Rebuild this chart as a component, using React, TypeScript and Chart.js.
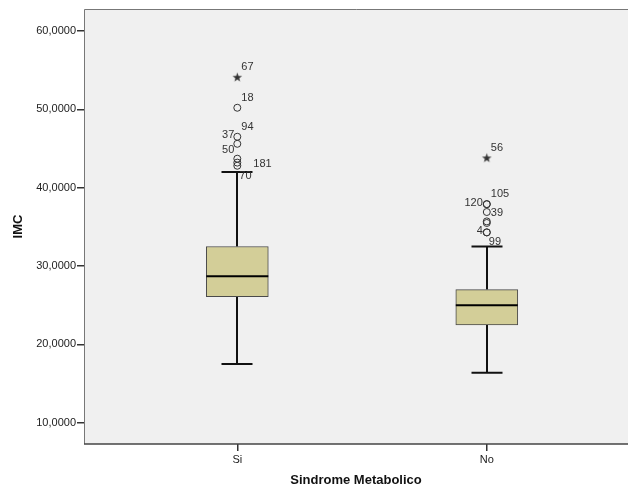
import React, { useEffect, useRef } from 'react';
import { Chart, registerables } from 'chart.js';

Chart.register(...registerables);

// ---- data ----
const categories = ['Si', 'No'];
const categoryPos = [1, 2];
const whiskerLow = [17.5, 16.4];
const q1 = [26.1, 22.5];
const median = [28.7, 25.0];
const q3 = [32.5, 27.0];
const whiskerHigh = [42.0, 32.5];

const outlierGroup = [0, 0, 0, 0, 0, 0, 0, 1, 1, 1, 1, 1, 1, 1, 1];
const outlierValues = [54.1, 50.2, 46.5, 45.6, 43.7, 43.2, 42.8, 43.8, 37.9, 37.9, 36.9, 35.7, 35.5, 34.3, 34.3];
const outlierKinds = ['star', 'circle', 'circle', 'circle', 'circle', 'circle', 'circle', 'star', 'circle', 'circle', 'circle', 'circle', 'circle', 'circle', 'circle'];
const outlierLabels = ['67', '18', '94', '37', '50', '181', '70', '56', '105', '120', '39', '', '', '4', '99'];
const labelSides = ['ur', 'ur', 'ur', 'ul', 'ul', 'rr', 'dr', 'ur', 'ur', 'l', 'r', '', '', 'l', 'dr'];

const yTicks = [10, 20, 30, 40, 50, 60];

function makeStar(): HTMLCanvasElement {
  const c = document.createElement('canvas');
  c.width = 11;
  c.height = 11;
  const g = c.getContext('2d')!;
  g.fillStyle = '#333';
  g.beginPath();
  const cx = 5.5, cy = 5.8, R = 5, r = 2;
  for (let i = 0; i < 10; i++) {
    const rad = i % 2 === 0 ? R : r;
    const a = -Math.PI / 2 + (i * Math.PI) / 5;
    const px = cx + rad * Math.cos(a);
    const py = cy + rad * Math.sin(a);
    if (i === 0) g.moveTo(px, py);
    else g.lineTo(px, py);
  }
  g.closePath();
  g.fill();
  return c;
}

const boxPlugin = {
  id: 'boxPlugin',
  beforeDraw(chart: any) {
    const { ctx, chartArea } = chart;
    ctx.save();
    ctx.fillStyle = '#f0f0f0';
    ctx.fillRect(chartArea.left, chartArea.top, chartArea.right - chartArea.left, chartArea.bottom - chartArea.top);
    ctx.restore();
  },
  beforeDatasetsDraw(chart: any) {
    const { ctx } = chart;
    const xs = chart.scales.x;
    const ys = chart.scales.y;
    ctx.save();
    ctx.strokeStyle = '#111';
    ctx.lineWidth = 2;
    categoryPos.forEach((p, i) => {
      const x = Math.round(xs.getPixelForValue(p));
      const cap = 15.5;
      const yl = ys.getPixelForValue(whiskerLow[i]);
      const yq1 = ys.getPixelForValue(q1[i]);
      const yq3 = ys.getPixelForValue(q3[i]);
      const yh = ys.getPixelForValue(whiskerHigh[i]);
      ctx.beginPath();
      ctx.moveTo(x, yl);
      ctx.lineTo(x, yq1);
      ctx.moveTo(x, yq3);
      ctx.lineTo(x, yh);
      ctx.moveTo(x - cap, yl);
      ctx.lineTo(x + cap, yl);
      ctx.moveTo(x - cap, yh);
      ctx.lineTo(x + cap, yh);
      ctx.stroke();
    });
    ctx.restore();
  },
  afterDatasetsDraw(chart: any) {
    const { ctx } = chart;
    const xs = chart.scales.x;
    const ys = chart.scales.y;
    ctx.save();
    // medians
    ctx.strokeStyle = '#000';
    ctx.lineWidth = 2.2;
    categoryPos.forEach((p, i) => {
      const x = xs.getPixelForValue(p);
      const y = ys.getPixelForValue(median[i]);
      ctx.beginPath();
      ctx.moveTo(x - 31, y);
      ctx.lineTo(x + 31, y);
      ctx.stroke();
    });
    // outlier labels
    ctx.font = '11px "Liberation Sans", Arial, sans-serif';
    ctx.fillStyle = '#333';
    ctx.textBaseline = 'middle';
    outlierValues.forEach((v, i) => {
      const lab = outlierLabels[i];
      if (!lab) return;
      const x = xs.getPixelForValue(categoryPos[outlierGroup[i]]);
      const y = ys.getPixelForValue(v);
      const side = labelSides[i];
      if (side === 'ur') {
        ctx.textAlign = 'left';
        ctx.fillText(lab, x + 4, y - 10);
      } else if (side === 'ul') {
        ctx.textAlign = 'right';
        ctx.fillText(lab, x - 3, y - 9);
      } else if (side === 'r') {
        ctx.textAlign = 'left';
        ctx.fillText(lab, x + 4, y + 0.5);
      } else if (side === 'rr') {
        ctx.textAlign = 'left';
        ctx.fillText(lab, x + 16, y + 1);
      } else if (side === 'l') {
        ctx.textAlign = 'right';
        ctx.fillText(lab, x - 4, y - 1);
      } else if (side === 'dr') {
        ctx.textAlign = 'left';
        ctx.fillText(lab, x + 2, y + 10);
      }
    });
    ctx.restore();
  },
  afterDraw(chart: any) {
    const { ctx, chartArea } = chart;
    ctx.save();
    ctx.lineWidth = 1;
    ctx.strokeStyle = '#777';
    ctx.beginPath();
    ctx.moveTo(chartArea.left + 0.5, chartArea.bottom);
    ctx.lineTo(chartArea.left + 0.5, chartArea.top + 0.5);
    ctx.lineTo(chartArea.right, chartArea.top + 0.5);
    ctx.stroke();
    ctx.strokeStyle = '#444';
    ctx.lineWidth = 1.5;
    ctx.beginPath();
    ctx.moveTo(chartArea.left, chartArea.bottom);
    ctx.lineTo(chartArea.right, chartArea.bottom);
    ctx.stroke();
    ctx.restore();
  },
};

export default function App() {
  const ref = useRef<HTMLCanvasElement | null>(null);
  useEffect(() => {
    if (!ref.current) return;
    const star = makeStar();
    const chart = new Chart(ref.current, {
      type: 'bar',
      data: {
        datasets: [
          {
            type: 'bar',
            data: categoryPos.map((p, i) => ({ x: p, y: [q1[i], q3[i]] })) as any,
            backgroundColor: '#d3ce98',
            borderColor: '#4a4a4a',
            borderWidth: 1,
            borderSkipped: false,
            barThickness: 62,
          } as any,
          {
            type: 'scatter',
            data: outlierValues.map((v, i) => ({ x: categoryPos[outlierGroup[i]], y: v })),
            pointStyle: (c: any) => (outlierKinds[c.dataIndex] === 'star' ? star : 'circle'),
            pointRadius: 3.5,
            pointBorderWidth: 1,
            pointBorderColor: '#333',
            pointBackgroundColor: 'rgba(0,0,0,0)',
          } as any,
        ],
      },
      options: {
        responsive: false,
        animation: false,
        layout: { autoPadding: false, padding: { top: 9, right: 0, left: 0, bottom: 0 } },
        plugins: { legend: { display: false }, tooltip: { enabled: false } },
        scales: {
          x: {
            type: 'linear',
            offset: false,
            min: 0.3855,
            max: 2.566,
            afterBuildTicks: (s: any) => {
              s.ticks = categoryPos.map((v) => ({ value: v }));
            },
            afterFit: (s: any) => {
              s.height = 49;
            },
            ticks: {
              callback: (v: any) => categories[categoryPos.indexOf(Number(v))] ?? '',
              font: { family: '"Liberation Sans", Arial, sans-serif', size: 11 },
              color: '#222',
              padding: 2,
              maxRotation: 0,
            },
            grid: { offset: false, drawOnChartArea: false, drawTicks: true, tickLength: 7, color: '#333', lineWidth: 1.5 },
            border: { display: false },
            title: {
              display: true,
              text: 'Sindrome Metabolico',
              font: { family: '"Liberation Sans", Arial, sans-serif', size: 13, weight: 'bold' },
              color: '#111',
              padding: { top: 0, bottom: 5 },
            },
          },
          y: {
            type: 'linear',
            min: 7.3,
            max: 62.8,
            afterBuildTicks: (s: any) => {
              s.ticks = yTicks.map((v) => ({ value: v }));
            },
            afterFit: (s: any) => {
              s.width = 84;
            },
            ticks: {
              callback: (v: any) => Number(v).toFixed(4).replace('.', ','),
              font: { family: '"Liberation Sans", Arial, sans-serif', size: 11 },
              color: '#222',
              padding: 1,
            },
            grid: { drawOnChartArea: false, drawTicks: true, tickLength: 7, color: '#333', lineWidth: 1.5 },
            border: { display: false },
            title: {
              display: true,
              text: 'IMC',
              font: { family: '"Liberation Sans", Arial, sans-serif', size: 13, weight: 'bold' },
              color: '#111',
              padding: { top: 11, bottom: 0 },
            },
          },
        },
      },
      plugins: [boxPlugin],
    });
    return () => chart.destroy();
  }, []);
  return (
    <div style={{ position: 'absolute', left: 0, top: 0, width: 628, height: 493, background: '#fff' }}>
      <canvas ref={ref} width={628} height={493} style={{ display: 'block' }} />
    </div>
  );
}
